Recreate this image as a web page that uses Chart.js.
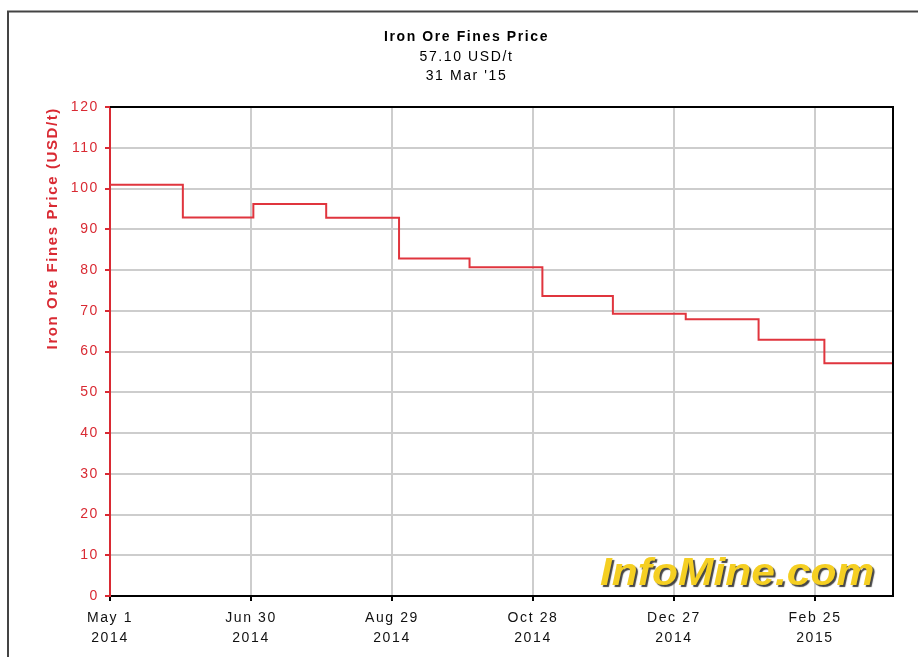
<!DOCTYPE html>
<html>
<head>
<meta charset="utf-8">
<script src="https://cdn.jsdelivr.net/npm/chart.js@4.4.1/dist/chart.umd.min.js"></script>
<style>
  html, body { margin: 0; padding: 0; background: #ffffff; }
  #wrap { width: 918px; height: 657px; }
</style>
</head>
<body>
<div id="wrap"><canvas id="c" width="918" height="657"></canvas></div>
<script>
// ---- data (days since 1 May 2014, monthly price in USD/t) ----
const dayOffsets = [0, 31, 61, 92, 123, 153, 184, 214, 245, 276, 304, 334];
const prices     = [100.9, 92.9, 96.2, 92.8, 82.8, 80.7, 73.6, 69.3, 67.9, 62.9, 57.1, 57.1];
const xTickDays  = [0, 60, 120, 180, 240, 300];
const xTickLabels = [['May 1', '2014'], ['Jun 30', '2014'], ['Aug 29', '2014'],
                     ['Oct 28', '2014'], ['Dec 27', '2014'], ['Feb 25', '2015']];
const chartTitle = 'Iron Ore Fines Price';
const chartSubtitle = ['57.10 USD/t', "31 Mar '15"];
const yAxisTitle = 'Iron Ore Fines Price (USD/t)';
const watermark = 'InfoMine.com';

const RED = '#d92a33';
const FONT = '"Liberation Sans", Arial, Helvetica, sans-serif';

const points = dayOffsets.map((d, i) => ({ x: d, y: prices[i] }));

function spacing(chart) {
  if ('letterSpacing' in chart.ctx) chart.ctx.letterSpacing = '1.6px';
}

const framePlugin = {
  id: 'frame',
  beforeUpdate: spacing,
  beforeLayout: spacing,
  beforeDraw(chart) {
    spacing(chart);
    const ctx = chart.ctx;
    ctx.save();
    ctx.fillStyle = '#ffffff';
    ctx.fillRect(0, 0, chart.width, chart.height);
    ctx.strokeStyle = '#444444';
    ctx.lineWidth = 2;
    ctx.beginPath();
    ctx.moveTo(8, chart.height);
    ctx.lineTo(8, 11.5);
    ctx.lineTo(chart.width, 11.5);
    ctx.stroke();
    ctx.restore();
  },
  beforeDatasetsDraw(chart) {
    const ctx = chart.ctx;
    const a = chart.chartArea;
    ctx.save();
    if ('letterSpacing' in ctx) ctx.letterSpacing = '0px';
    ctx.font = 'italic bold 38px "Liberation Sans", Arial, sans-serif';
    ctx.textBaseline = 'alphabetic';
    ctx.textAlign = 'left';
    ctx.translate(a.right - 293, a.bottom - 11);
    ctx.scale(1.12, 1);
    ctx.shadowColor = 'rgba(50,50,50,0.9)';
    ctx.shadowOffsetX = 2;
    ctx.shadowOffsetY = 2;
    ctx.shadowBlur = 1;
    ctx.fillStyle = '#f5cf22';
    ctx.fillText(watermark, 0, 0);
    ctx.restore();
  },
  afterDatasetsDraw(chart) {
    const ctx = chart.ctx;
    const a = chart.chartArea;
    ctx.save();
    ctx.strokeStyle = '#000000';
    ctx.lineWidth = 2;
    ctx.beginPath();
    ctx.moveTo(a.left, a.top);
    ctx.lineTo(a.right, a.top);
    ctx.lineTo(a.right, a.bottom);
    ctx.stroke();
    ctx.restore();
  }
};

new Chart(document.getElementById('c'), {
  type: 'line',
  data: {
    datasets: [{
      data: points,
      borderColor: '#e0353e',
      borderWidth: 2,
      pointRadius: 0,
      stepped: true,
      fill: false
    }]
  },
  options: {
    responsive: false,
    animation: false,
    layout: { padding: { left: 40, right: 25, top: 0, bottom: 0 } },
    plugins: {
      legend: { display: false },
      tooltip: { enabled: false },
      title: {
        display: true,
        text: chartTitle,
        color: '#000',
        font: { family: FONT, size: 14, weight: 'bold', lineHeight: 1.2 },
        padding: { top: 29, bottom: 2 }
      },
      subtitle: {
        display: true,
        text: chartSubtitle,
        color: '#000',
        font: { family: FONT, size: 14, weight: 'normal', lineHeight: 1.33 },
        padding: { top: 0, bottom: 22 }
      }
    },
    scales: {
      x: {
        type: 'linear',
        min: 0,
        max: 333.2,
        afterBuildTicks(scale) { scale.ticks = xTickDays.map(v => ({ value: v })); },
        afterFit(scale) { scale.height = 61; },
        ticks: {
          color: '#111',
          font: { family: FONT, size: 14, lineHeight: 1.43 },
          padding: 7,
          maxRotation: 0,
          autoSkip: false,
          callback: (v, i) => xTickLabels[i]
        },
        grid: { color: '#cdcdcd', lineWidth: 2, tickColor: '#000', tickLength: 5 },
        border: { color: '#000', width: 2 }
      },
      y: {
        min: 0,
        max: 120,
        afterFit(scale) { scale.width = 70; },
        ticks: {
          stepSize: 10,
          color: RED,
          font: { family: FONT, size: 14 },
          padding: 6
        },
        grid: { color: '#cdcdcd', lineWidth: 2, tickColor: RED, tickLength: 5 },
        border: { color: RED, width: 2 },
        title: {
          display: true,
          text: yAxisTitle,
          align: 'end',
          color: RED,
          font: { family: FONT, size: 15, weight: 'bold', lineHeight: 1.2 },
          padding: { top: 4, bottom: 0 }
        }
      }
    }
  },
  plugins: [framePlugin]
});
</script>
</body>
</html>
